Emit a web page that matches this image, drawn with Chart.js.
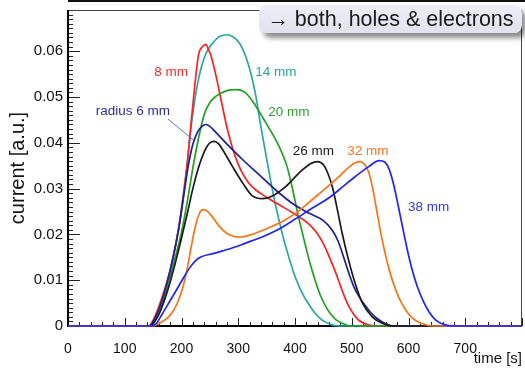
<!DOCTYPE html>
<html lang="en">
<head>
    <meta charset="UTF-8">
    <title>current vs time</title>
    <script src="https://cdn.jsdelivr.net/npm/chart.js@4.4.1/dist/chart.umd.min.js"></script>
    <style>
        body { margin: 0; background: #fff; font-family: "Liberation Sans", Arial, sans-serif; }
        .wrap { position: relative; width: 525px; height: 368px; }
        .topbar { position: absolute; left: 68px; top: 0; width: 457px; height: 2px; background: #111; }
        .note {
            position: absolute; left: 259px; top: 5px; width: 263px; height: 28px;
            border-radius: 8px;
            background: linear-gradient(#eeeef7, #e2e2ef);
            box-shadow: 4px 5px 5px rgba(0,0,0,0.45);
            font-size: 21.5px; line-height: 28px; text-align: center; color: #1a1a1a;
        }
    </style>
</head>
<body>
<div class="wrap">
    <canvas id="chart"></canvas>
    <div class="topbar"></div>
    <div class="note">→ both, holes &amp; electrons</div>
</div>
<script>
    // [time, current] pairs per radius
    const r6 = [[0,0],[143,0],[150,0.001],[160,0.0036],[172,0.0082],[185,0.0148],[195,0.0212],[204,0.0285],[212,0.035],[220,0.0397],[228,0.0423],[236,0.0436],[243,0.044],[250,0.0436],[258,0.0426],[278,0.040],[308,0.0363],[337,0.033],[366,0.0297],[395,0.0268],[425,0.0246],[450,0.023],[465,0.021],[476,0.0185],[485,0.0153],[495,0.0115],[504,0.0085],[514,0.0062],[524,0.0044],[533,0.003],[543,0.0018],[558,0.0006],[575,0],[800,0]];
    const r8 = [[0,0],[142,0],[150,0.0012],[160,0.0042],[170,0.0079],[180,0.0122],[190,0.0178],[198,0.0235],[205,0.030],[211,0.0365],[217,0.0445],[223,0.052],[230,0.0592],[237,0.061],[243,0.0615],[247,0.0605],[252,0.059],[261,0.0545],[272,0.048],[281,0.0429],[290,0.0388],[300,0.0353],[310,0.0328],[320,0.031],[331,0.0297],[350,0.0281],[366,0.0269],[380,0.0259],[395,0.0248],[410,0.0236],[425,0.0222],[438,0.0204],[450,0.018],[460,0.0152],[470,0.0122],[478,0.0095],[486,0.0068],[494,0.0045],[503,0.0026],[513,0.0012],[525,0.0004],[540,0],[800,0]];
    const r14 = [[0,0],[143,0],[150,0.001],[160,0.0037],[172,0.0083],[185,0.015],[195,0.0215],[203,0.0285],[210,0.0355],[216,0.0425],[223,0.049],[231,0.0545],[243,0.0595],[255,0.0618],[267,0.0632],[279,0.0636],[290,0.0632],[302,0.0618],[313,0.0589],[322,0.0553],[331,0.0502],[340,0.0435],[349,0.0372],[357,0.0318],[365,0.0268],[373,0.0225],[381,0.0185],[390,0.0147],[398,0.0115],[407,0.0087],[416,0.0064],[425,0.0046],[434,0.003],[443,0.0018],[453,0.0009],[464,0.0003],[478,0],[800,0]];
    const r20 = [[0,0],[145,0],[152,0.001],[162,0.0035],[174,0.008],[188,0.0145],[200,0.0205],[210,0.027],[220,0.0345],[230,0.041],[240,0.0462],[250,0.0488],[261,0.0502],[280,0.0514],[296,0.0516],[313,0.0509],[331,0.048],[349,0.0443],[372,0.0392],[386,0.0348],[396,0.0297],[405,0.0245],[413,0.0203],[421,0.0163],[429,0.0126],[437,0.0094],[445,0.0066],[454,0.0043],[463,0.0026],[472,0.0014],[483,0.0006],[497,0],[800,0]];
    const r26 = [[0,0],[145,0],[152,0.0008],[162,0.003],[176,0.0079],[190,0.0142],[200,0.0192],[211,0.025],[220,0.03],[231,0.035],[243,0.0388],[251,0.0401],[258,0.0403],[265,0.0398],[272,0.0386],[290,0.0348],[308,0.0312],[325,0.0284],[343,0.0278],[360,0.0284],[384,0.0305],[407,0.0334],[428,0.0355],[440,0.0359],[450,0.0352],[458,0.0333],[466,0.0303],[474,0.0258],[483,0.0203],[494,0.0146],[505,0.0097],[518,0.0052],[536,0.002],[554,0.0006],[570,0],[800,0]];
    const r32 = [[0,0],[148,0],[161,0.0006],[179,0.0022],[192,0.0048],[202,0.0083],[210,0.0125],[217,0.0172],[224,0.0215],[231,0.0244],[238,0.0254],[244,0.0252],[252,0.0242],[267,0.0217],[284,0.0199],[302,0.0194],[331,0.0203],[360,0.0218],[380,0.023],[401,0.0246],[420,0.0265],[440,0.0286],[460,0.0307],[480,0.0329],[495,0.0347],[507,0.0357],[515,0.0359],[523,0.0352],[530,0.0335],[537,0.030],[545,0.0245],[553,0.0192],[562,0.0142],[572,0.0098],[583,0.0062],[595,0.0035],[607,0.0017],[622,0.0006],[645,0],[800,0]];
    const r38 = [[0,0],[148,0],[156,0.0006],[164,0.0022],[175,0.0045],[188,0.0072],[202,0.0102],[215,0.0128],[225,0.0143],[235,0.0151],[255,0.0158],[284,0.0168],[313,0.0181],[343,0.0195],[372,0.0212],[401,0.0234],[430,0.0257],[460,0.028],[485,0.0305],[507,0.0327],[530,0.0348],[548,0.0361],[558,0.0358],[566,0.0342],[574,0.0308],[582,0.0262],[590,0.0213],[598,0.0166],[606,0.0125],[615,0.0088],[625,0.0057],[636,0.0031],[648,0.0013],[663,0.0003],[680,0],[800,0]];

    const xTicks = [0, 100, 200, 300, 400, 500, 600, 700];
    const yTicks = [0, 0.01, 0.02, 0.03, 0.04, 0.05, 0.06];
    const yTickLabels = ['0', '0.01', '0.02', '0.03', '0.04', '0.05', '0.06'];

    // curve labels, anchored in data units (left edge, baseline)
    const curveLabels = [
        { text: '8 mm', color: '#ff2a2a', t: 152, v: 0.0546 },
        { text: '14 mm', color: '#27a5a8', t: 330, v: 0.0546 },
        { text: 'radius 6 mm', color: '#2c2ca8', t: 49, v: 0.04615 },
        { text: '20 mm', color: '#2ea32e', t: 353, v: 0.0459 },
        { text: '26 mm', color: '#1a1a1a', t: 396, v: 0.0374 },
        { text: '32 mm', color: '#ff7320', t: 492, v: 0.0374 },
        { text: '38 mm', color: '#3333ff', t: 599, v: 0.02504 }
    ];

    const pts = arr => arr.map(p => ({ x: p[0], y: p[1] }));
    const series = (label, data, color) => ({
        label, data: pts(data), borderColor: color, borderWidth: 1.7,
        pointRadius: 0, cubicInterpolationMode: 'monotone', clip: 4, fill: false
    });

    const font = '"Liberation Sans", Arial, sans-serif';

    // frame, tick marks and curve labels
    const framePlugin = {
        id: 'frame',
        beforeDatasetsDraw(chart) {
            const { ctx, chartArea: a, scales: { x, y } } = chart;
            ctx.save();
            ctx.strokeStyle = '#444';
            ctx.lineWidth = 1;
            ctx.beginPath();
            ctx.moveTo(a.left, a.top + 0.5); ctx.lineTo(a.right, a.top + 0.5);
            ctx.moveTo(a.right - 0.5, a.top); ctx.lineTo(a.right - 0.5, a.bottom);
            ctx.stroke();
            ctx.strokeStyle = '#222';
            ctx.beginPath();
            for (let v = 0; v <= 0.0685; v += 0.001) {
                const p = Math.round(y.getPixelForValue(v)) + 0.5;
                const major = Math.abs(v / 0.01 - Math.round(v / 0.01)) < 1e-6;
                ctx.moveTo(a.left, p); ctx.lineTo(a.left + (major ? 12 : 5), p);
            }
            for (let t = 0; t <= 800; t += 20) {
                const p = Math.round(x.getPixelForValue(t)) + 0.5;
                ctx.moveTo(p, a.bottom); ctx.lineTo(p, a.bottom - (t % 100 === 0 ? 8 : 4));
            }
            ctx.stroke();
            ctx.strokeStyle = '#000';
            ctx.lineWidth = 2;
            ctx.beginPath();
            ctx.moveTo(a.left, a.top); ctx.lineTo(a.left, a.bottom);
            ctx.lineTo(a.right, a.bottom);
            ctx.stroke();
            ctx.restore();
        },
        afterDatasetsDraw(chart) {
            const { ctx, scales: { x, y } } = chart;
            ctx.save();
            ctx.font = '13.5px ' + font;
            ctx.textBaseline = 'alphabetic';
            ctx.textAlign = 'left';
            curveLabels.forEach(l => {
                ctx.fillStyle = l.color;
                ctx.fillText(l.text, x.getPixelForValue(l.t), y.getPixelForValue(l.v));
            });
            // leader from the 6 mm label to its curve
            ctx.strokeStyle = '#6b6bbf';
            ctx.lineWidth = 1;
            ctx.beginPath();
            ctx.moveTo(x.getPixelForValue(176), y.getPixelForValue(0.0452));
            ctx.lineTo(x.getPixelForValue(220), y.getPixelForValue(0.0407));
            ctx.stroke();
            ctx.restore();
        }
    };

    // Chart.js paints the first dataset last, so the 38 mm curve leads
    new Chart(document.getElementById('chart'), {
        type: 'line',
        data: {
            datasets: [
                series('38 mm', r38, '#2222ff'),
                series('32 mm', r32, '#ff7214'),
                series('26 mm', r26, '#1a1a1a'),
                series('radius 6 mm', r6, '#1f1f9c'),
                series('20 mm', r20, '#23a023'),
                series('8 mm', r8, '#ff2020'),
                series('14 mm', r14, '#2aa6aa')
            ]
        },
        options: {
            responsive: true,
            maintainAspectRatio: false,
            animation: false,
            layout: { padding: { top: 10, right: 3, left: 0, bottom: 0 } },
            plugins: { legend: { display: false }, tooltip: { enabled: false } },
            scales: {
                x: {
                    type: 'linear', min: 0, max: 800,
                    afterFit: s => { s.height = 42; s.paddingLeft = 0; s.paddingRight = 0; },
                    afterBuildTicks: s => { s.ticks = xTicks.map(v => ({ value: v })); },
                    grid: { display: false, drawTicks: false },
                    border: { display: false },
                    ticks: { padding: 14.5, color: '#111', font: { family: font, size: 14 }, maxRotation: 0 },
                    title: { display: true, text: 'time [s]', align: 'end', color: '#111',
                             font: { family: font, size: 15 }, padding: { top: 0, bottom: 0 } }
                },
                y: {
                    min: 0, max: 0.069,
                    afterFit: s => { s.width = 68; s.paddingTop = 0; s.paddingBottom = 0; },
                    afterBuildTicks: s => { s.ticks = yTicks.map(v => ({ value: v })); },
                    grid: { display: false, drawTicks: false },
                    border: { display: false },
                    ticks: {
                        padding: 5, color: '#111', font: { family: font, size: 15 },
                        callback: v => yTickLabels[yTicks.findIndex(t => Math.abs(t - v) < 1e-9)]
                    },
                    title: { display: true, text: 'current [a.u.]', color: '#111',
                             font: { family: font, size: 20 }, padding: { top: 6, bottom: 0 } }
                }
            }
        },
        plugins: [framePlugin]
    });
</script>
</body>
</html>
